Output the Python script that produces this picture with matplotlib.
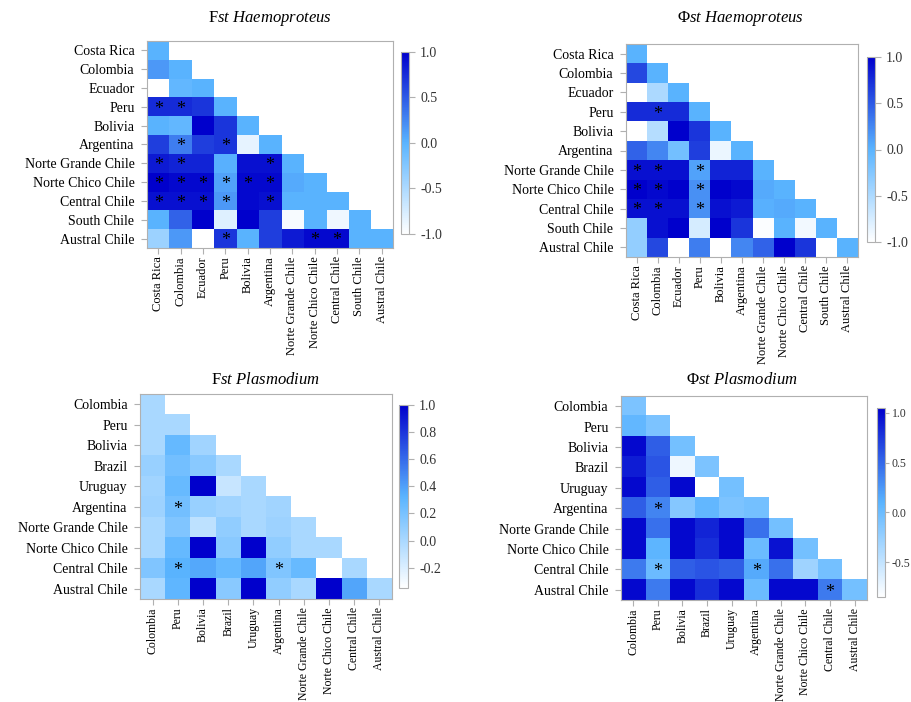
import numpy as np
import matplotlib.pyplot as plt
from matplotlib.colors import LinearSegmentedColormap

plt.rcParams['font.family'] = ['Liberation Serif', 'DejaVu Serif']
plt.rcParams['mathtext.fontset'] = 'custom'
plt.rcParams['mathtext.rm'] = 'Liberation Serif'
plt.rcParams['mathtext.it'] = 'Liberation Serif:italic'

# populations
pops_haemo = ['Costa Rica', 'Colombia', 'Ecuador', 'Peru', 'Bolivia', 'Argentina',
              'Norte Grande Chile', 'Norte Chico Chile', 'Central Chile',
              'South Chile', 'Austral Chile']
pops_plasmo = ['Colombia', 'Peru', 'Bolivia', 'Brazil', 'Uruguay', 'Argentina',
               'Norte Grande Chile', 'Norte Chico Chile', 'Central Chile',
               'Austral Chile']

# lower triangle values (row by row, diagonal included)
fst_haemo = [
    [0.0],
    [0.15, 0.0],
    [-1.0, -0.05, 0.0],
    [0.75, 0.75, 0.7, 0.0],
    [0.0, -0.05, 1.0, 0.7, 0.0],
    [0.65, 0.3, 0.65, 0.7, -0.85, 0.0],
    [0.85, 0.8, 0.8, 0.02, 0.9, 0.9, 0.0],
    [1.0, 0.95, 0.95, 0.1, 0.95, 0.95, 0.05, 0.0],
    [0.9, 0.9, 0.9, 0.15, 0.95, 0.9, 0.0, 0.0, 0.0],
    [0.0, 0.45, 1.0, -0.8, 1.0, 0.65, -0.95, 0.0, -0.9, 0.0],
    [-0.4, 0.15, -1.0, 0.7, 0.0, 0.65, 0.85, 0.95, 0.95, 0.0, 0.0],
]
phi_haemo = [
    [0.0],
    [0.6, 0.0],
    [-1.0, -0.5, 0.0],
    [0.75, 0.75, 0.75, 0.0],
    [-1.0, -0.55, 1.0, 0.7, 0.0],
    [0.45, 0.25, -0.15, 0.65, -0.88, 0.0],
    [0.9, 0.9, 0.9, 0.1, 0.8, 0.8, 0.0],
    [1.0, 0.95, 1.0, 0.2, 1.0, 0.95, 0.05, 0.0],
    [0.9, 0.9, 0.9, 0.2, 0.9, 0.85, 0.02, 0.05, 0.0],
    [-0.35, 0.9, 1.0, -0.75, 1.0, 0.7, -0.97, 0.0, -0.92, 0.0],
    [-0.35, 0.6, -1.0, 0.3, -1.0, 0.25, 0.45, 1.0, 0.7, -1.0, 0.0],
]
fst_plasmo = [
    [0.0],
    [0.0, 0.0],
    [0.0, 0.28, 0.03],
    [0.07, 0.22, 0.13, 0.0],
    [0.03, 0.27, 1.0, -0.12, 0.0],
    [0.05, 0.22, 0.07, 0.03, 0.0, 0.03],
    [0.0, 0.17, -0.08, 0.1, 0.0, 0.05, 0.0],
    [0.0, 0.28, 1.0, 0.13, 1.0, 0.1, 0.0, 0.0],
    [0.17, 0.33, 0.37, 0.28, 0.38, 0.17, 0.27, -0.35, 0.0],
    [0.0, 0.3, 1.0, 0.13, 1.0, 0.1, 0.0, 1.0, 0.38, 0.0],
]
phi_plasmo = [
    [-0.1],
    [0.05, -0.1],
    [1.0, 0.55, -0.05],
    [0.9, 0.6, -0.75, -0.1],
    [1.0, 0.55, 1.0, -0.85, -0.05],
    [0.55, 0.35, -0.15, 0.05, -0.1, -0.05],
    [1.0, 0.45, 1.0, 0.85, 1.0, 0.45, -0.05],
    [1.0, 0.08, 1.0, 0.8, 1.0, 0.0, 0.95, -0.05],
    [0.4, 0.0, 0.55, 0.6, 0.55, 0.15, 0.45, -0.3, -0.05],
    [1.0, 0.4, 1.0, 0.8, 1.0, 0.0, 1.0, 1.0, 0.4, -0.05],
]

# significant pairs (row, col)
stars_fst_haemo = [(3, 0), (3, 1), (5, 1), (5, 3), (6, 0), (6, 1), (6, 5),
                   (7, 0), (7, 1), (7, 2), (7, 3), (7, 4), (7, 5),
                   (8, 0), (8, 1), (8, 2), (8, 3), (8, 5),
                   (10, 3), (10, 7), (10, 8)]
stars_phi_haemo = [(3, 1), (6, 0), (6, 1), (6, 3), (7, 0), (7, 1), (7, 3),
                   (8, 0), (8, 1), (8, 3)]
stars_fst_plasmo = [(5, 1), (8, 1), (8, 5)]
stars_phi_plasmo = [(5, 1), (8, 1), (8, 5), (9, 8)]

W, H = 912, 702
cmap = LinearSegmentedColormap.from_list('wb', ['#ffffff', '#5ab4ff', '#0000cc'])
cmap.set_bad('white')
frame_col = '#b0b0b0'


def rect(x0, x1, y0, y1):
    return [x0 / W, 1 - y1 / H, (x1 - x0) / W, (y1 - y0) / H]


def tri(rows):
    n = len(rows)
    m = np.full((n, n), np.nan)
    for i, r in enumerate(rows):
        m[i, :len(r)] = r
    return m


def panel(fig, ax_box, cb_box, title, tx, ty, pops, rows, stars, vmin, vmax, ticks,
          xfs=9, cbfs=10, cbpad=4, cblen=4):
    ax = fig.add_axes(rect(*ax_box))
    m = tri(rows)
    im = ax.imshow(m, cmap=cmap, vmin=vmin, vmax=vmax, aspect='auto',
                   interpolation='nearest')
    n = len(pops)
    ax.set_xticks(range(n))
    ax.set_yticks(range(n))
    ax.set_xticklabels(pops, rotation=90, fontsize=xfs)
    ax.set_yticklabels(pops, fontsize=10)
    ax.tick_params(length=4, color=frame_col)
    ax.tick_params(axis='y', pad=5)
    ax.tick_params(axis='x', pad=2)
    for s in ax.spines.values():
        s.set_color(frame_col)
        s.set_linewidth(0.8)
    for (i, j) in stars:
        ax.text(j, i + 0.12, '*', ha='center', va='center', fontsize=13, color='black')
    cax = fig.add_axes(rect(*cb_box))
    cb = fig.colorbar(im, cax=cax, ticks=ticks)
    cb.ax.set_yticklabels(['%.1f' % t for t in ticks], fontsize=cbfs, color='#333333')
    cb.ax.tick_params(length=cblen, color=frame_col, pad=cbpad)
    cb.outline.set_edgecolor(frame_col)
    cb.outline.set_linewidth(0.8)
    fig.text(tx / W, 1 - ty / H, title, ha='center', va='center', fontsize=12)


fig = plt.figure(figsize=(9.12, 7.02), dpi=100)

panel(fig, (147, 393, 41, 248), (401, 409, 52, 234),
      r'F$\mathit{st}$ $\mathit{Haemoproteus}$', 270, 18,
      pops_haemo, fst_haemo, stars_fst_haemo, -1.0, 1.0,
      [-1.0, -0.5, 0.0, 0.5, 1.0])
panel(fig, (626, 858, 44, 257), (867, 875, 57, 242),
      r'$\Phi$$\mathit{st}$ $\mathit{Haemoproteus}$', 740, 18,
      pops_haemo, phi_haemo, stars_phi_haemo, -1.0, 1.0,
      [-1.0, -0.5, 0.0, 0.5, 1.0])
panel(fig, (140, 392, 394, 599), (399, 408, 405, 588),
      r'F$\mathit{st}$ $\mathit{Plasmodium}$', 265, 380,
      pops_plasmo, fst_plasmo, stars_fst_plasmo, -0.35, 1.0,
      [-0.2, 0.0, 0.2, 0.4, 0.6, 0.8, 1.0], xfs=8.5)
panel(fig, (621, 867, 396, 600), (877, 885, 408, 597),
      r'$\Phi$$\mathit{st}$ $\mathit{Plasmodium}$', 742, 380,
      pops_plasmo, phi_plasmo, stars_phi_plasmo, -0.85, 1.05,
      [-0.5, 0.0, 0.5, 1.0], xfs=8.5, cbfs=8.5, cbpad=2, cblen=3)

fig.savefig('out.png', dpi=100)
